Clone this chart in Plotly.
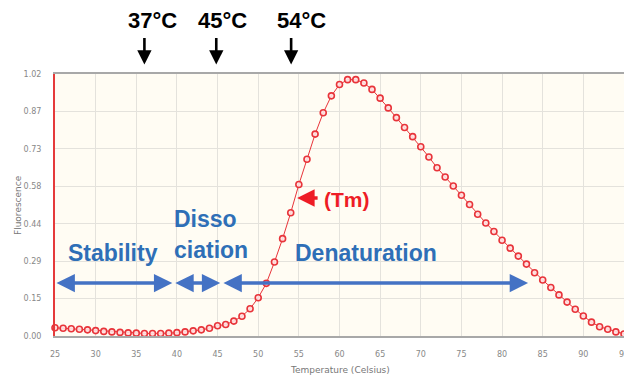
import plotly.graph_objects as go

# ---- data ----
temperature = list(range(25, 96))
fluorescence = [
    0.032, 0.030, 0.028, 0.026, 0.024, 0.021, 0.018, 0.016, 0.014, 0.012,   # 25-34
    0.011, 0.010, 0.010, 0.010, 0.011, 0.013, 0.016, 0.020, 0.024, 0.030,   # 35-44
    0.040, 0.045, 0.058, 0.077, 0.106, 0.149, 0.205, 0.288, 0.379, 0.480,   # 45-54
    0.590, 0.688, 0.786, 0.869, 0.935, 0.979, 0.998, 0.998, 0.985, 0.960,   # 55-64
    0.926, 0.888, 0.850, 0.812, 0.776, 0.737, 0.697, 0.655, 0.619, 0.584,   # 65-74
    0.548, 0.512, 0.474, 0.440, 0.407, 0.373, 0.342, 0.311, 0.280, 0.246,   # 75-84
    0.218, 0.189, 0.160, 0.132, 0.104, 0.078, 0.054, 0.036, 0.026, 0.016,   # 85-94
    0.008,                                                                  # 95
]
x_ticks = [25, 30, 35, 40, 45, 50, 55, 60, 65, 70, 75, 80, 85, 90, 95]
y_tick_vals = [0, 1.02 / 7, 2 * 1.02 / 7, 3 * 1.02 / 7, 4 * 1.02 / 7, 5 * 1.02 / 7, 6 * 1.02 / 7, 1.02]
y_tick_text = ["0.00", "0.15", "0.29", "0.44", "0.58", "0.73", "0.87", "1.02"]

x_title = "Temperature (Celsius)"
y_title = "Fluorescence"

top_labels = ["37°C", "45°C", "54°C"]
top_label_x = [36.98, 45.58, 55.28]
top_arrow_x = [36.0, 44.84, 54.05]

phase_labels = ["Stability", "Disso", "ciation", "Denaturation"]
phase_label_x = [32.1, 39.43, 39.43, 63.2]
phase_label_y = [0.323, 0.455, 0.335, 0.323]
phase_label_anchor = ["center", "left", "left", "center"]
phase_ranges = [(25.0, 39.43), (39.62, 45.33), (45.54, 83.2)]
phase_arrow_y = 0.206

tm_label = "(Tm)"

RED = "#E8343A"
BLUE_TXT = "#2E6FB7"
BLUE_ARR = "#4472C4"

fig = go.Figure()
fig.add_trace(go.Scatter(
    x=temperature, y=fluorescence, mode="lines+markers",
    line=dict(color=RED, width=1),
    marker=dict(size=6, color="rgba(255,225,225,0.9)", line=dict(color=RED, width=1.6)),
    cliponaxis=False, showlegend=False, hoverinfo="skip",
))

ann = []
for t, tx, ax in zip(top_labels, top_label_x, top_arrow_x):
    ann.append(dict(x=tx, y=1.206, xref="x", yref="paper", text=f"<b>{t}</b>", showarrow=False,
                    font=dict(family="Liberation Sans, Arial", size=22, color="black"),
                    xanchor="center", yanchor="middle"))
    ann.append(dict(x=ax, y=1.036, xref="x", yref="paper", ax=0, ay=-28, axref="pixel", ayref="pixel",
                    text="", showarrow=True, arrowhead=2, arrowsize=1.1, arrowwidth=2.6, arrowcolor="black"))

for t, x, y, anc in zip(phase_labels, phase_label_x, phase_label_y, phase_label_anchor):
    ann.append(dict(x=x, y=y, xref="x", yref="y", text=f"<b>{t}</b>", showarrow=False,
                    font=dict(family="Liberation Sans, Arial", size=23, color=BLUE_TXT),
                    xanchor=anc, yanchor="middle"))

for (x0, x1) in phase_ranges:
    ann.append(dict(x=x1, y=phase_arrow_y, xref="x", yref="y", ax=x0, ay=phase_arrow_y, axref="x", ayref="y",
                    text="", showarrow=True, arrowhead=2, arrowside="end+start", arrowsize=1.05,
                    arrowwidth=3.5, arrowcolor=BLUE_ARR))

ann.append(dict(x=54.79, y=0.537, xref="x", yref="y", ax=57.49, ay=0.537, axref="x", ayref="y",
                text="", showarrow=True, arrowhead=2, arrowsize=1.0, arrowwidth=3.5, arrowcolor="#EE1C25"))
ann.append(dict(x=60.87, y=0.533, xref="x", yref="y", text=f"<b>{tm_label}</b>", showarrow=False,
                font=dict(family="Liberation Sans, Arial", size=21, color="#EE1C25"),
                xanchor="center", yanchor="middle"))

# axis titles
ann.append(dict(x=0.5, y=-0.13, xref="paper", yref="paper", text=x_title, showarrow=False,
                font=dict(family="DejaVu Sans", size=9, color="#777"), xanchor="center", yanchor="middle"))
ann.append(dict(x=-0.065, y=0.5, xref="paper", yref="paper", text=y_title, showarrow=False, textangle=-90,
                font=dict(family="DejaVu Sans", size=9, color="#777"), xanchor="center", yanchor="middle"))

fig.update_layout(
    width=624, height=379,
    margin=dict(l=54.5, r=0, t=74, b=43, autoexpand=False),
    paper_bgcolor="white", plot_bgcolor="#FFFCF3",
    annotations=ann,
    xaxis=dict(range=[25, 95], tickvals=x_ticks, ticktext=[str(v) for v in x_ticks],
               showgrid=True, gridcolor="#E4E2DC", gridwidth=1, zeroline=False,
               showline=True, linecolor="#A8A8A8", linewidth=1.5, mirror=True,
               ticks="", ticklabelstandoff=10, automargin=False, ticklabeloverflow="allow",
               tickfont=dict(family="DejaVu Sans", size=8, color="#888")),
    yaxis=dict(range=[0, 1.02], tickvals=y_tick_vals, ticktext=y_tick_text,
               showgrid=True, gridcolor="#E4E2DC", gridwidth=1, zeroline=False,
               showline=True, linecolor="#E53A3A", linewidth=2,
               ticks="", ticklabelstandoff=10, automargin=False,
               tickfont=dict(family="DejaVu Sans", size=8, color="#888")),
)

fig.write_html("out.html", config={"displayModeBar": False},
               post_script="document.body.style.margin='0';document.body.style.overflow='hidden';")
